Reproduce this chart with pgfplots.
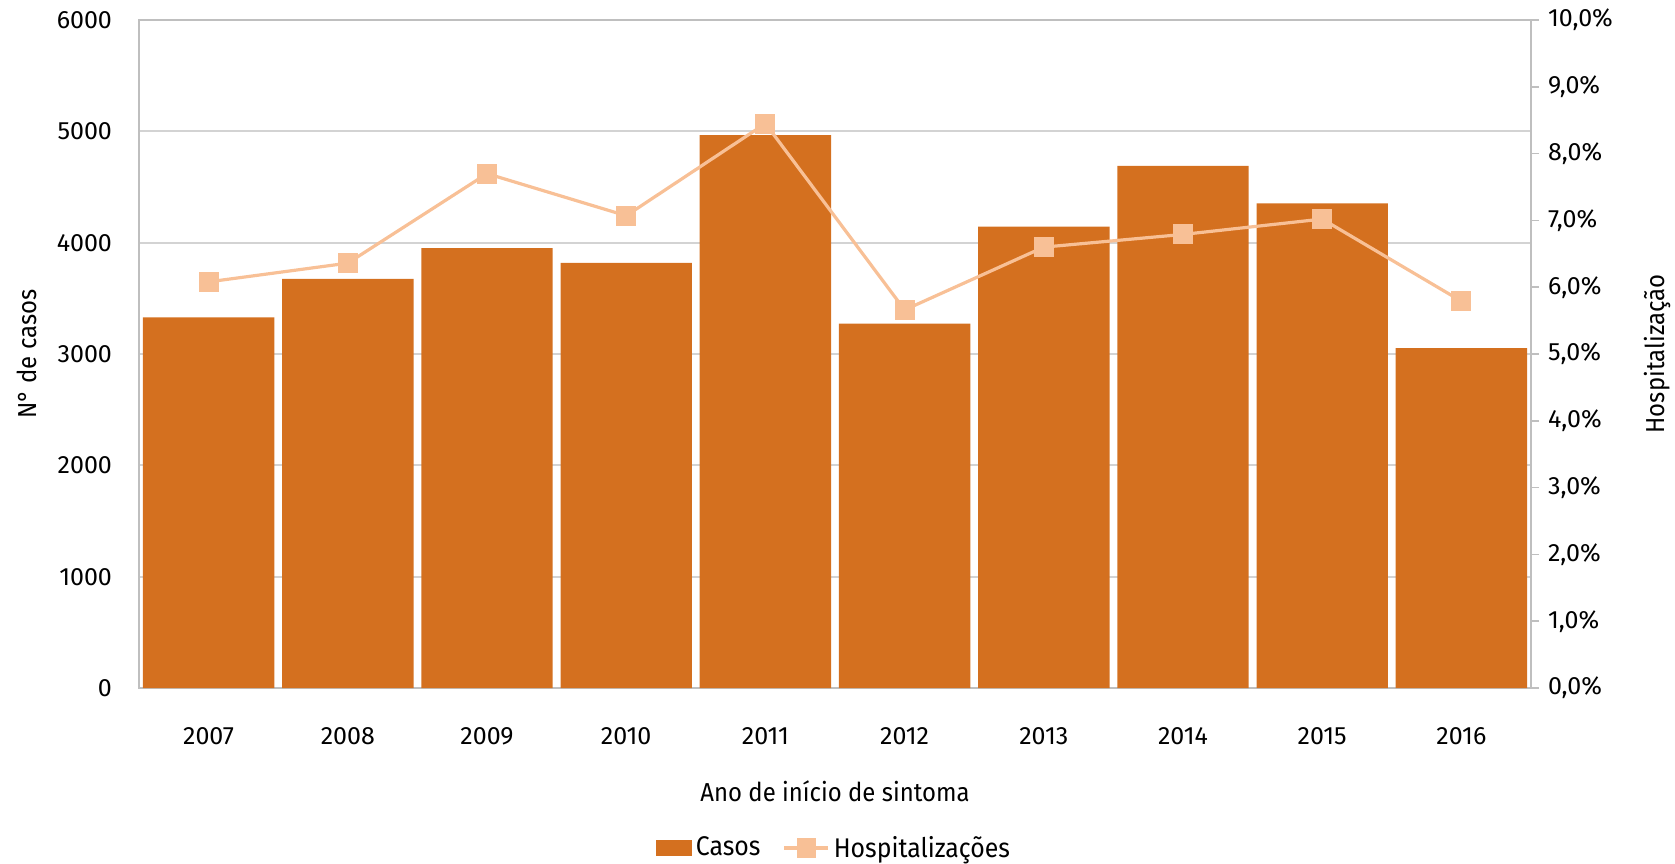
\documentclass[border=0pt]{standalone}
\usepackage{pgfplots}
\pgfplotsset{compat=1.18}
\usepackage{fontspec}
\setmainfont{Fira Sans}
\newfontfamily\condfont[FakeStretch=0.92]{Fira Sans}
\definecolor{barc}{HTML}{D4701F}
\definecolor{linec}{HTML}{F8C096}
\definecolor{gridc}{HTML}{D3D3D3}
\definecolor{axc}{HTML}{BFBFBF}
\begin{document}
\begin{tikzpicture}
\useasboundingbox (-69.5pt,-87.5pt) rectangle (768pt,344pt);
\begin{axis}[
  scale only axis, width=696pt, height=334pt,
  xmin=-0.5, xmax=9.5, ymin=0, ymax=6000,
  axis lines=box, axis line style={axc, line width=0.8pt},
  xtick={0,...,9},
  xticklabels={2007,2008,2009,2010,2011,2012,2013,2014,2015,2016},
  ytick={0,1000,...,6000},
  major tick length=0pt,
  ymajorgrids, grid style={gridc, line width=0.9pt},
  tick label style={font=\fontsize{12.5}{14}\selectfont},
  /pgf/number format/assume math mode=true,
  /pgf/number format/1000 sep={},
  xticklabel style={yshift=-16pt},
  yticklabel style={xshift=-10pt},
  ylabel={\condfont N° de casos},
  ylabel style={at={(axis description cs:-0.0805,0.5)}, anchor=center, font=\fontsize{13}{15}\selectfont},
  xlabel={\condfont Ano de início de sintoma},
  xlabel style={at={(axis description cs:0.5,-0.154)}, anchor=center, font=\fontsize{13}{15}\selectfont},
  ytick pos=left, xtick pos=bottom,
]
\addplot[ybar, bar width=0.944, fill=barc, draw=none] coordinates {
  (0,3330) (1,3675) (2,3952) (3,3818) (4,4967)
  (5,3273) (6,4144) (7,4689) (8,4354) (9,3053)
};
\end{axis}
\begin{axis}[
  scale only axis, width=696pt, height=334pt,
  xmin=-0.5, xmax=9.5, ymin=0, ymax=10,
  axis y line*=right, axis x line=none,
  axis line style={axc, line width=0.8pt},
  ytick={0,1,...,10},
  yticklabels={{0,0\%},{1,0\%},{2,0\%},{3,0\%},{4,0\%},{5,0\%},{6,0\%},{7,0\%},{8,0\%},{9,0\%},{10,0\%}},
  tick align=outside, major tick length=4pt,
  major tick style={axc, line width=0.8pt},
  tick label style={font=\fontsize{12.5}{14}\selectfont},
  yticklabel style={xshift=1pt},
  ylabel={\condfont Hospitalização},
  ylabel style={at={(axis description cs:1.0912,0.5)}, anchor=center, font=\fontsize{13}{15}\selectfont},
  legend style={at={(axis description cs:0.5,-0.2395)}, anchor=center, draw=none, fill=none,
    legend columns=-1, font=\fontsize{13.5}{16}\selectfont\condfont,
    /tikz/every even column/.append style={column sep=9pt},
    inner sep=0pt},
]
\addlegendimage{legend image code/.code={\fill[barc] (0pt,-3.75pt) rectangle (17.5pt,3.75pt);}}
\addlegendentry{Casos}
\addplot[linec, line width=1.6pt, mark=square*, mark size=4.2pt, mark options={fill=linec, draw=linec},
  legend image code/.code={\draw[linec, line width=1.6pt] (0pt,0pt) -- (22pt,0pt); \fill[linec] (7pt,-4pt) rectangle (15pt,4pt);}]
  coordinates {
  (0,6.08) (1,6.36) (2,7.70) (3,7.07) (4,8.45)
  (5,5.66) (6,6.60) (7,6.79) (8,7.02) (9,5.79)
};
\addlegendentry{Hospitalizações}
\end{axis}
\end{tikzpicture}
\end{document}
